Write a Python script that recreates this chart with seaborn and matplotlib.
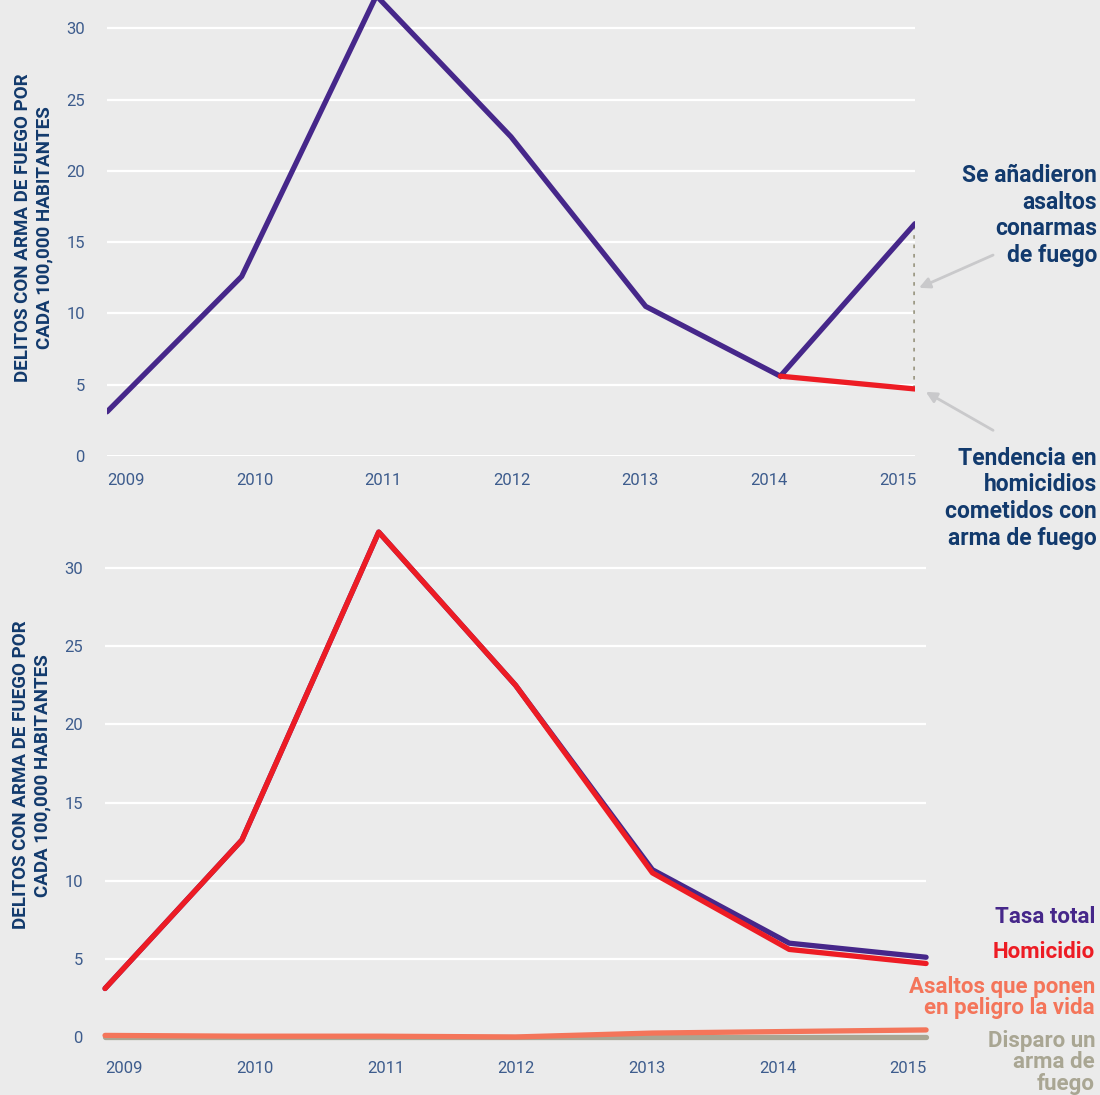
"""
Delitos con arma de fuego por cada 100,000 habitantes, 2009-2015.
"""

import numpy as np
import matplotlib.pyplot as plt
import seaborn as sns

# Datos
anios = ['2009', '2010', '2011', '2012', '2013', '2014', '2015']
tasa_total = [3.1, 12.6, 32.3, 22.5, 10.7, 6.0, 5.1]
homicidio = [3.1, 12.6, 32.3, 22.5, 10.5, 5.6, 4.7]
asaltos = [0.1, 0.05, 0.05, 0.0, 0.25, 0.35, 0.45]
disparo = [0.0, 0.0, 0.0, 0.0, 0.0, 0.0, 0.0]
# panel superior: homicidios + asaltos con armas de fuego en 2015
tasa_con_asaltos = [3.1, 12.6, 32.3, 22.4, 10.5, 5.6, 16.3]

BG = '#ebebeb'
MORADO = '#46278a'
ROJO = '#ed1c24'
NARANJA = '#f4755a'
GRIS = '#a9a693'
AZUL = '#123a6d'
AZUL_TICK = '#3d5c8d'

sns.set_theme(style='white', rc={'axes.facecolor': BG, 'figure.facecolor': BG})
plt.rcParams['font.family'] = ['Roboto', 'DejaVu Sans']

x = np.arange(len(anios))
ylabel = 'DELITOS CON ARMA DE FUEGO POR\nCADA 100,000 HABITANTES'

fig = plt.figure(figsize=(11, 10.95), dpi=100)
ax1 = fig.add_axes([0.0973, 0.5836, 0.7345, 0.4164])
ax2 = fig.add_axes([0.0955, 0.053, 0.7464, 0.4782])


def estilo(ax, ymax, pad_x):
    ax.set_xlim(0, 6)
    ax.set_ylim(0, ymax)
    ax.set_yticks([0, 5, 10, 15, 20, 25, 30])
    ax.set_xticks(np.linspace(0.14, 5.87, 7))
    ax.set_xticklabels(anios)
    ax.grid(axis='y', color='white', linewidth=1.6)
    ax.grid(axis='x', visible=False)
    ax.set_axisbelow(True)
    for s in ax.spines.values():
        s.set_visible(False)
    ax.tick_params(axis='both', length=0, labelsize=12, labelcolor=AZUL_TICK)
    ax.tick_params(axis='y', pad=16)
    ax.tick_params(axis='x', pad=pad_x)
    ax.set_xlabel('')
    ax.set_ylabel(ylabel, fontsize=13.5, fontweight='bold', color=AZUL,
                  linespacing=1.25, labelpad=9)


# Panel superior
sns.lineplot(x=x, y=tasa_con_asaltos, ax=ax1, color=MORADO, linewidth=3.8,
             solid_capstyle='round', solid_joinstyle='miter')
sns.lineplot(x=x[5:], y=homicidio[5:], ax=ax1, color=ROJO, linewidth=3.8,
             solid_capstyle='round')
ax1.plot([x[6], x[6]], [homicidio[6], tasa_con_asaltos[6]], color='#9d9a86',
         linestyle=(0, (1, 1.6)), linewidth=2.6, zorder=1)
ax1.axhline(0, color='#d2d2d6', linewidth=1.6, zorder=0)
estilo(ax1, 32, 12)

ax1.text(1.0 + 182 / 808, 0.640, 'Se añadieron\nasaltos\nconarmas\nde fuego',
         transform=ax1.transAxes, ha='right', va='top', fontsize=16.5,
         fontweight='semibold', color=AZUL, linespacing=1.2)
ax1.text(1.0 + 182 / 808, 0.02, 'Tendencia en\nhomicidios\ncometidos con\narma de fuego',
         transform=ax1.transAxes, ha='right', va='top', fontsize=16.5,
         fontweight='semibold', color=AZUL, linespacing=1.2)
ax1.annotate('', xy=(6.03, 11.8), xytext=(6.58, 14.1),
             arrowprops=dict(arrowstyle='-|>', color='#c9c9cb', lw=2,
                             mutation_scale=16, shrinkA=0, shrinkB=0),
             annotation_clip=False)
ax1.annotate('', xy=(6.08, 4.5), xytext=(6.58, 1.8),
             arrowprops=dict(arrowstyle='-|>', color='#c9c9cb', lw=2,
                             mutation_scale=16, shrinkA=0, shrinkB=0),
             annotation_clip=False)

# Panel inferior
sns.lineplot(x=x, y=disparo, ax=ax2, color=GRIS, linewidth=3.8, solid_capstyle='round')
sns.lineplot(x=x, y=asaltos, ax=ax2, color=NARANJA, linewidth=3.8, solid_capstyle='round')
sns.lineplot(x=x, y=tasa_total, ax=ax2, color=MORADO, linewidth=3.8, solid_capstyle='round')
sns.lineplot(x=x, y=homicidio, ax=ax2, color=ROJO, linewidth=3.8, solid_capstyle='round')
estilo(ax2, 33.5, 17)
for ln in ax2.get_lines():
    ln.set_clip_on(False)

leyenda = [('Tasa total', MORADO, 0.250), ('Homicidio', ROJO, 0.183),
           ('Asaltos que ponen\nen peligro la vida', NARANJA, 0.117),
           ('Disparo un\narma de\nfuego', GRIS, 0.014)]
for txt, col, yy in leyenda:
    ax2.text(1.0 + 169 / 821, yy, txt, transform=ax2.transAxes,
             ha='right', va='top', fontsize=16, fontweight='semibold',
             color=col, linespacing=0.98)

fig.savefig('out.png', dpi=100, facecolor=BG)
